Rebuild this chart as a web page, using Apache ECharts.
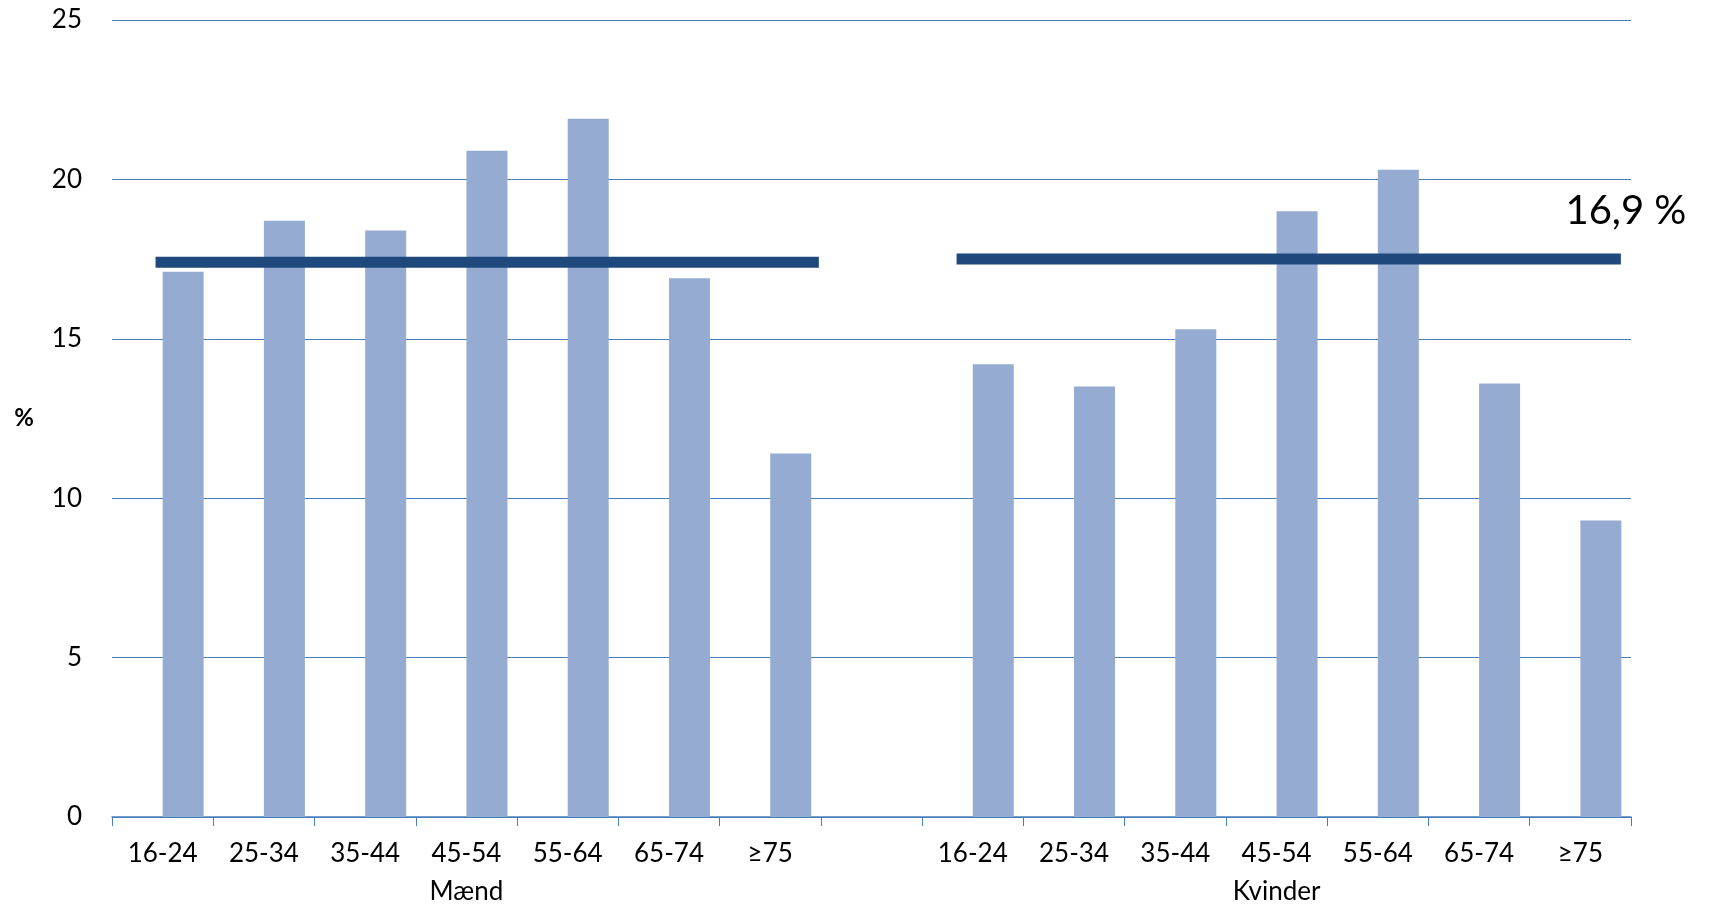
<!DOCTYPE html>
<html><head><meta charset="utf-8">
<script src="https://cdn.jsdelivr.net/npm/echarts@6/dist/echarts.min.js"></script>
<style>html,body{margin:0;padding:0;background:#fff}#c{width:1717px;height:908px}</style>
</head><body><div id="c"></div>
<script>
const categories = ['16-24','25-34','35-44','45-54','55-64','65-74','≥75','','16-24','25-34','35-44','45-54','55-64','65-74','≥75'];
const groupLabels = ['','','','Mænd','','','','','','','','Kvinder','','',''];
const values = [17.1,18.7,18.4,20.9,21.9,16.9,11.4,null,14.2,13.5,15.3,19.0,20.3,13.6,9.3];
const menMean = 17.4;
const womenMean = 17.5;
const meanLabel = '16,9 %';
const yTicks = [0,5,10,15,20,25];

const chart = echarts.init(document.getElementById('c'));
const font = 'Lato, "Open Sans", sans-serif';
chart.setOption({
  animation:false,
  grid:{left:112,right:86,top:20,bottom:91},
  xAxis:[
    {type:'category',data:categories,boundaryGap:true,
     axisLine:{lineStyle:{color:'#4a7ebb',width:1.5}},
     axisTick:{show:true,interval:0,length:9,lineStyle:{color:'#4a7ebb'}},
     axisLabel:{interval:0,color:'#000',fontSize:26,fontFamily:font,margin:24}},
    {type:'category',data:groupLabels,position:'bottom',offset:52,boundaryGap:true,
     axisLine:{show:false},axisTick:{show:false},
     axisLabel:{interval:0,color:'#000',fontSize:26,fontFamily:font,margin:10}},
    {type:'value',min:0,max:15,show:false}
  ],
  yAxis:{type:'value',min:0,max:25,interval:5,
    name:'%',nameLocation:'middle',nameGap:78,nameRotate:0,
    nameTextStyle:{fontSize:24,fontWeight:'bold',fontFamily:font,color:'#000'},
    axisLine:{show:false},axisTick:{show:false},
    axisLabel:{color:'#000',fontSize:26,fontFamily:font,margin:30},
    splitLine:{lineStyle:{color:'#4a7ebb',width:1.2}}},
  series:[
    {type:'bar',data:values.map(()=>null),barWidth:41,barGap:'0%',xAxisIndex:0},
    {type:'bar',data:values,barWidth:41,barGap:'0%',xAxisIndex:0,itemStyle:{color:'#95abd1'}},
    {type:'line',xAxisIndex:2,data:[[0.43,menMean],[6.98,menMean]],symbol:'none',
     lineStyle:{color:'#1f497d',width:11},z:5},
    {type:'line',xAxisIndex:2,data:[[8.34,womenMean],[14.9,womenMean]],symbol:'none',
     lineStyle:{color:'#1f497d',width:11},z:5,
     markPoint:{symbol:'circle',symbolSize:1,itemStyle:{color:'rgba(0,0,0,0)'},
       data:[{coord:[14.95,19.0]}],
       label:{show:true,position:'inside',formatter:meanLabel,fontSize:40,fontFamily:font,color:'#000'}}}
  ]
});
</script></body></html>
